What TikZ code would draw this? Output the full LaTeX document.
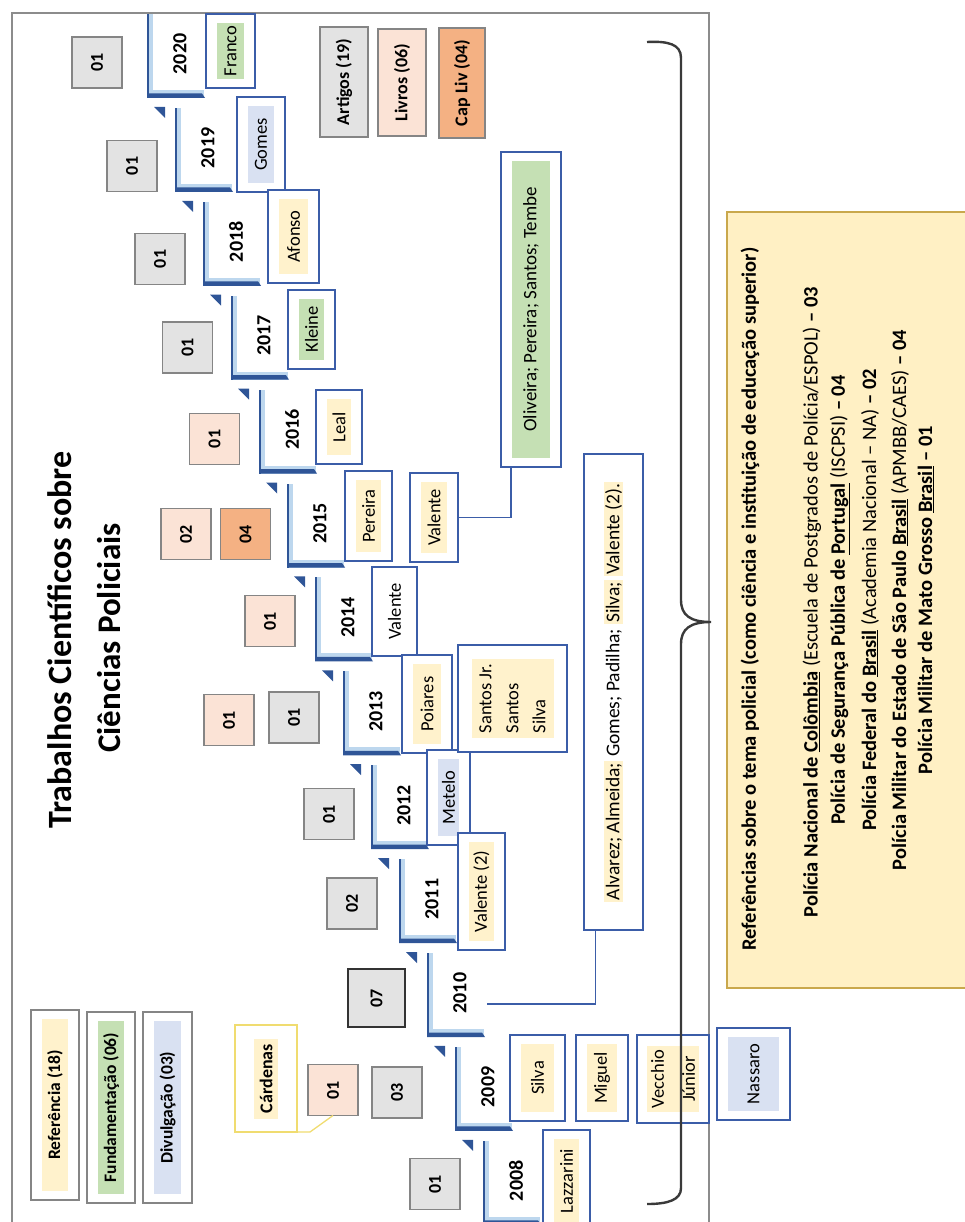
\documentclass[tikz,border=0pt]{standalone}
\usepackage{fontspec}
\setmainfont{Carlito}
\usetikzlibrary{calc}

\definecolor{yrblue}{HTML}{2F5597}
\definecolor{yrlight}{HTML}{BDD7EE}
\definecolor{nmblue}{HTML}{3B5DA8}
\definecolor{hlY}{HTML}{FFF2CC}
\definecolor{hlG}{HTML}{C5E0B4}
\definecolor{hlB}{HTML}{D9E1F2}
\definecolor{cntgray}{HTML}{E3E3E3}
\definecolor{cntpeach}{HTML}{FBE3D6}
\definecolor{cntorange}{HTML}{F4B183}
\definecolor{cntborder}{HTML}{858585}
\definecolor{notefill}{HTML}{FFF0C4}
\definecolor{noteborder}{HTML}{C9A84C}
\definecolor{calloutcol}{HTML}{F0DC70}
\definecolor{framecol}{HTML}{8C8C8C}
\definecolor{bracecol}{HTML}{3A3A3A}

\newcommand\fsz[2]{\fontsize{#1}{#2}\selectfont}

\tikzset{
  every node/.style={inner sep=0pt, outer sep=0pt},
  nmbox/.style={draw=nmblue, line width=1.6pt, fill=white},
  legbox/.style={draw=cntborder, line width=1.1pt, fill=white},
  hltext/.style={rotate=90, inner xsep=2pt, inner ysep=0pt, font=\fsz{18.5}{22}},
  cnt/.style={draw=cntborder, line width=1.1pt, minimum width=50pt, minimum height=51pt,
              font=\bfseries\fsz{18}{18}},
  yeartext/.style={rotate=90, font=\bfseries\fsz{20}{20}},
  conn/.style={draw=nmblue, line width=1.6pt},
  notetext/.style={rotate=90, font=\bfseries\fsz{20.5}{20.5}},
}

% boxed label with a highlighted text strip: [style]{name}{x1}{y1}{x2}{y2}{highlight}{text}
\newcommand\namebox[8][nmbox]{%
  \node[#1, minimum width={(#5)-(#3)}, minimum height={(#6)-(#4)}]
    (#2) at ({((#3)+(#5))/2},{((#4)+(#6))/2}) {};
  \node[hltext, fill=#7, minimum width={(#6)-(#4)-18}, minimum height={(#5)-(#3)-22}]
    (#2t) at (#2.center) {#8};
}

\begin{document}
\begin{tikzpicture}[x=1pt, y=-1pt]
\useasboundingbox (0,0) rectangle (965,1222);
\clip (0,0) rectangle (965,1222);

% outer frame
\draw[framecol, line width=1.2pt] (12,1240) -- (12,13) -- (709,13) -- (709,1240);

% title
\node[rotate=90, font=\bfseries\fsz{34}{34}] (title1) at (60,640) {Trabalhos Científicos sobre};
\node[rotate=90, font=\bfseries\fsz{33}{33}] (title2) at (109,638) {Ciências Policiais};

% year steps
\foreach \yr [count=\k from 0] in {2020,2019,2018,2017,2016,2015,2014,2013,2012,2011,2010,2009,2008}{
  \pgfmathsetmacro\xo{147+28*\k}
  \pgfmathsetmacro\yo{14+93.9*\k}
  \node[minimum width=58, minimum height=84] (ybox\yr) at (\xo+29,\yo+42) {};
  \fill[yrlight] (\xo,\yo) rectangle (\xo+6,\yo+84);
  \fill[yrlight] (\xo,\yo+76) rectangle (\xo+57,\yo+84);
  \fill[yrblue] (\xo,\yo) rectangle (\xo+1.8,\yo+84);
  \fill[yrblue] (\xo,\yo+79.5) -- (\xo+55,\yo+79.5) -- (\xo+58,\yo+84) -- (\xo,\yo+84) -- cycle;
  \node[yeartext] (yr\yr) at (\xo+33,\yo+40) {\yr};
  \ifnum\k>0
    \fill[yrblue] (\xo-21,\yo-1) -- (\xo-10,\yo-1) -- (\xo-10,\yo+10) -- cycle;
  \fi
}

% yearly counts
\node[cnt, fill=cntgray]  (c20)  at (97,62.5)   {\rotatebox{90}{01}};
\node[cnt, fill=cntgray]  (c19)  at (132,166)   {\rotatebox{90}{01}};
\node[cnt, fill=cntgray]  (c18)  at (160,259)   {\rotatebox{90}{01}};
\node[cnt, fill=cntgray]  (c17)  at (187.5,347.5) {\rotatebox{90}{01}};
\node[cnt, fill=cntpeach] (c16)  at (214.5,439) {\rotatebox{90}{01}};
\node[cnt, fill=cntpeach] (c15a) at (186,534)   {\rotatebox{90}{02}};
\node[cnt, fill=cntorange](c15b) at (245.5,534) {\rotatebox{90}{04}};
\node[cnt, fill=cntpeach] (c14)  at (270,621)   {\rotatebox{90}{01}};
\node[cnt, fill=cntpeach] (c13a) at (229,720)   {\rotatebox{90}{01}};
\node[cnt, fill=cntgray]  (c13b) at (294,717.5) {\rotatebox{90}{01}};
\node[cnt, fill=cntgray]  (c12)  at (329,814)   {\rotatebox{90}{01}};
\node[cnt, fill=cntgray]  (c11)  at (352,903.5) {\rotatebox{90}{02}};
\node[cnt, fill=cntgray, draw=black!80, line width=2pt, minimum width=57, minimum height=58]
                          (c10)  at (376.5,998) {\rotatebox{90}{07}};
\node[cnt, fill=cntpeach] (c09a) at (333,1090)  {\rotatebox{90}{01}};
\node[cnt, fill=cntgray]  (c09b) at (397,1092.5){\rotatebox{90}{03}};
\node[cnt, fill=cntgray]  (c08)  at (435,1184)  {\rotatebox{90}{01}};

% legend: publication types
\node[cnt, fill=cntgray,   minimum width=48, minimum height=110, font=\bfseries\fsz{18}{18}] (lart) at (344,82)   {\rotatebox{90}{Artigos (19)}};
\node[cnt, fill=cntpeach,  minimum width=48, minimum height=107, font=\bfseries\fsz{18}{18}] (lliv) at (402,82.5) {\rotatebox{90}{Livros (06)}};
\node[cnt, fill=cntorange, minimum width=46, minimum height=110, font=\bfseries\fsz{18}{18}] (lcap) at (462,83)   {\rotatebox{90}{Cap Liv (04)}};

% legend: kinds of use
\namebox[legbox]{lref}{31}{1010}{79}{1200}{hlY}{\bfseries\fsz{17.5}{17.5}Referência (18)}
\namebox[legbox]{lfun}{87}{1012}{135}{1203}{hlG}{\bfseries\fsz{17.5}{17.5}Fundamentação (06)}
\namebox[legbox]{ldiv}{143}{1012}{192}{1203}{hlB}{\bfseries\fsz{17.5}{17.5}Divulgação (03)}

% authors per year
\namebox{franco}{206}{14}{255}{88}{hlG}{Franco}
\namebox{gomes}{237}{97}{285}{192}{hlB}{Gomes}
\namebox{afonso}{268}{190}{319}{283}{hlY}{Afonso}
\namebox{kleine}{288}{290}{335}{369}{hlG}{Kleine}
\namebox{leal}{316}{390}{362}{464}{hlY}{Leal}
\namebox{pereira}{345}{471}{392}{561}{hlY}{Pereira}
\namebox{v15}{410}{473}{458}{562}{hlY}{Valente}
\namebox{oliv}{501}{152}{561}{467}{hlG}{\fsz{19}{22}Oliveira; Pereira; Santos; Tembe}
\namebox{v14}{372}{567}{417}{656}{white}{Valente}
\namebox{poiares}{402}{655}{452}{753}{hlY}{Poiares}
\namebox{metelo}{427}{750}{470}{845}{hlB}{Metelo}
\namebox{v11}{458}{833}{505}{950}{hlY}{Valente (2)}

\node[nmbox, minimum width=109, minimum height=107] (santos) at (512.5,698.5) {};
\node[hltext, fill=hlY, align=left, font=\fsz{18.5}{27}, minimum width=79, minimum height=82]
  (santost) at (santos.center) {Santos Jr.\\Santos\\Silva};

\node[nmbox, minimum width=59, minimum height=476] (alv) at (613.5,692) {};
\node[hltext, fill=none, font=\fsz{19.5}{19.5}] (alvt) at (alv.center)
  {\setlength\fboxsep{1.5pt}\colorbox{hlY}{Alvarez; Almeida;} Gomes; Padilha; \colorbox{hlY}{Silva;} \colorbox{hlY}{Valente (2).}};

\namebox{silva09}{510}{1035}{565}{1121}{hlY}{Silva}
\namebox{miguel}{576}{1035}{628}{1121}{hlY}{Miguel}
\node[nmbox, minimum width=72, minimum height=88] (vecchio) at (673,1079) {};
\node[hltext, fill=hlY, align=center, font=\fsz{18.5}{31}, minimum width=66, minimum height=52]
  (vecchiot) at (vecchio.center) {Vecchio\\Júnior};
\namebox{nassaro}{717}{1028}{790}{1120}{hlB}{Nassaro}
\namebox{lazz}{543}{1130}{590}{1232}{hlY}{Lazzarini}

% callout for Cárdenas
\node[draw=calloutcol, line width=1.3pt, fill=white, minimum width=62, minimum height=107] (card) at (266,1078.5) {};
\node[hltext, fill=hlY, font=\bfseries\fsz{18}{18}, minimum width=80, minimum height=24] (cardt) at (card.center) {Cárdenas};
\draw[calloutcol, line width=1.3pt] (card.south east) -- ++(13,0) -- (c09a.south);

% connectors
\draw[conn] (v15.east) -| ([xshift=-20pt]oliv.south);
\draw[conn] ($(ybox2010.east)+(2,9)$) -| ([xshift=-18pt]alv.south);

% grouping brace
\draw[bracecol, line width=2.4pt]
  (647,42) .. controls (668,41) and (681,44) .. (681,58) -- (681,600)
  .. controls (681,615) and (690,622) .. (711,622)
  .. controls (690,622) and (681,629) .. (681,644) -- (681,1188)
  .. controls (681,1200) and (668,1204) .. (647,1204);

% note on police institutions
\node[draw=noteborder, fill=notefill, line width=1.2pt, minimum width=260, minimum height=776] (note) at (857,600) {};
\node[notetext] (n1) at (750,599) {Referências sobre o tema policial (como ciência e instituição de educação superior)};
\node[notetext] (n2) at (812,602) {Polícia Nacional de \underline{Colômbia} {\mdseries(Escuela de Postgrados de Polícia/ESPOL)} – 03};
\node[notetext] (n3) at (840,600) {Polícia de Segurança Pública de \underline{Portugal} {\mdseries(ISCPSI)} – 04};
\node[notetext] (n4) at (870,600) {Polícia Federal do \underline{Brasil} {\mdseries(Academia Nacional – NA)} – 02};
\node[notetext] (n5) at (900,600) {Polícia Militar do Estado de São Paulo \underline{Brasil} {\mdseries(APMBB/CAES)} – 04};
\node[notetext] (n6) at (926,600) {Polícia Militar de Mato Grosso \underline{Brasil} – 01};
\end{tikzpicture}
\end{document}
